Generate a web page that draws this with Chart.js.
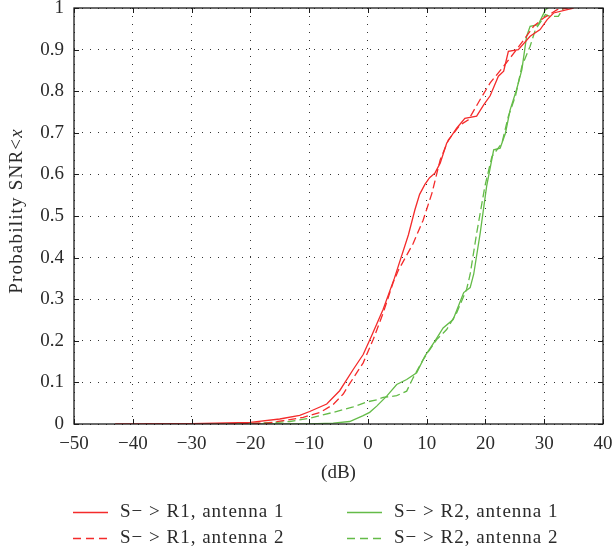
<!DOCTYPE html>
<html>
<head>
<meta charset="utf-8">
<script src="https://cdn.jsdelivr.net/npm/chart.js@4"></script>
<style>
  html, body { margin: 0; padding: 0; background: #fff; }
  #wrap { position: relative; width: 614px; height: 554px; }
</style>
</head>
<body>
<div id="wrap"><canvas id="chart"></canvas></div>
<script>
// S -> R1, antenna 1
const r1a1X = [-43, -30, -20, -15, -11.6, -9.9, -7.0, -4.8, -2.5, -0.8, 0.6, 2.6, 4.5, 6.9, 8.0, 8.8, 9.7, 10.5, 11.4, 12.3, 13.4, 15.1, 16.5, 18.5, 19.7, 20.8, 22.2, 23.1, 23.9, 25.6, 27.6, 29.3, 30.5, 31.6, 33.9, 35];
const r1a1Y = [0, 0.001, 0.004, 0.012, 0.021, 0.03, 0.048, 0.08, 0.131, 0.167, 0.211, 0.276, 0.35, 0.455, 0.515, 0.552, 0.576, 0.592, 0.603, 0.627, 0.675, 0.711, 0.735, 0.74, 0.767, 0.789, 0.836, 0.848, 0.896, 0.9, 0.932, 0.948, 0.972, 0.988, 0.996, 1.0];
// S -> R1, antenna 2
const r1a2X = [-38, -25, -17.2, -14.4, -11, -8.1, -5.9, -4.2, -3.1, -0.8, 0.9, 2.6, 4.3, 5.2, 7.7, 9.4, 10.9, 12.3, 13.7, 15.7, 17.1, 19.1, 20.8, 23.1, 25.3, 28.2, 29.9, 32.2, 34];
const r1a2Y = [0, 0.0005, 0.002, 0.008, 0.016, 0.028, 0.047, 0.072, 0.097, 0.147, 0.203, 0.267, 0.34, 0.37, 0.434, 0.49, 0.555, 0.635, 0.683, 0.719, 0.731, 0.78, 0.82, 0.86, 0.9, 0.956, 0.976, 0.996, 1];
// S -> R2, antenna 1
const r2a1X = [-30, -10, -5.9, -3.1, -0.8, 0.3, 1.5, 3.2, 4.9, 6.6, 8.3, 9.7, 11.4, 12.8, 14.5, 16.3, 17.4, 18.0, 19.1, 20.2, 21.4, 22.5, 23.4, 24.2, 25.3, 26.2, 27.0, 27.6, 29.0, 30.2, 30.7];
const r2a1Y = [0, 0.0005, 0.002, 0.006, 0.02, 0.028, 0.043, 0.067, 0.095, 0.107, 0.123, 0.163, 0.199, 0.231, 0.251, 0.316, 0.328, 0.36, 0.458, 0.571, 0.659, 0.663, 0.699, 0.755, 0.804, 0.852, 0.932, 0.956, 0.96, 0.996, 1.0];
// S -> R2, antenna 2
const r2a2X = [-30, -20, -13.3, -9.9, -5.9, -2.5, -0.2, 1.5, 2.6, 4.9, 6.6, 7.7, 9.4, 11.7, 13.4, 15.1, 16.8, 17.4, 18.5, 19.9, 21.1, 22.8, 23.9, 25.1, 26.2, 27.6, 28.5, 30.2, 31.0, 32.4, 33.3];
const r2a2Y = [0, 0.001, 0.006, 0.014, 0.028, 0.041, 0.053, 0.058, 0.064, 0.068, 0.079, 0.111, 0.155, 0.203, 0.227, 0.267, 0.324, 0.36, 0.458, 0.571, 0.643, 0.675, 0.74, 0.788, 0.86, 0.908, 0.948, 0.984, 0.98, 0.98, 1.0];

const seriesNames = ['S\u2212 > R1, antenna 1', 'S\u2212 > R1, antenna 2', 'S\u2212 > R2, antenna 1', 'S\u2212 > R2, antenna 2'];
const xTitle = '(dB)';
const yTitle = 'Probability SNR<';
const yTitleVar = 'x';

const RED = '#f42b2b';
const GREEN = '#64bb48';
const FONT = '"Liberation Serif", "DejaVu Serif", serif';
const TEXT = '#2a2a2a';
const SIZE = 19;

function points(xs, ys) {
  return xs.map((x, i) => ({ x: x, y: ys[i] }));
}

function lineSet(label, xs, ys, color, dash) {
  return {
    label: label,
    data: points(xs, ys),
    borderColor: color,
    backgroundColor: color,
    borderWidth: 1.3,
    borderDash: dash,
    pointRadius: 0,
    tension: 0,
    fill: false
  };
}

// box round the plot, with small ticks pointing inwards
const framePlugin = {
  id: 'frame',
  afterDatasetsDraw(chart) {
    const { ctx, chartArea: a, scales: { x, y } } = chart;
    ctx.save();
    ctx.strokeStyle = '#1a1a1a';
    ctx.lineWidth = 1.3;
    ctx.setLineDash([]);
    ctx.strokeRect(a.left, a.top, a.right - a.left, a.bottom - a.top);
    ctx.lineWidth = 1;
    ctx.beginPath();
    x.ticks.forEach(t => {
      const px = Math.round(x.getPixelForValue(t.value)) + 0.5;
      ctx.moveTo(px, a.bottom); ctx.lineTo(px, a.bottom - 5);
      ctx.moveTo(px, a.top); ctx.lineTo(px, a.top + 5);
    });
    y.ticks.forEach(t => {
      const py = Math.round(y.getPixelForValue(t.value)) + 0.5;
      ctx.moveTo(a.left, py); ctx.lineTo(a.left + 5, py);
      ctx.moveTo(a.right, py); ctx.lineTo(a.right - 5, py);
    });
    ctx.stroke();
    ctx.restore();
  },
  afterDraw(chart) {
    const { ctx, chartArea: a } = chart;
    ctx.save();
    // y title, with the italic variable
    ctx.fillStyle = TEXT;
    ctx.textBaseline = 'middle';
    ctx.letterSpacing = '1.2px';
    const f1 = SIZE + 'px ' + FONT;
    const f2 = 'italic ' + SIZE + 'px ' + FONT;
    ctx.font = f1;
    const w1 = ctx.measureText(yTitle).width;
    ctx.font = f2;
    const w2 = ctx.measureText(yTitleVar).width;
    ctx.translate(17, (a.top + a.bottom) / 2 - 5);
    ctx.rotate(-Math.PI / 2);
    const start = -(w1 + w2) / 2;
    ctx.textAlign = 'left';
    ctx.font = f1;
    ctx.fillText(yTitle, start, 0);
    ctx.font = f2;
    ctx.fillText(yTitleVar, start + w1, 0);
    ctx.restore();

    // legend, two columns
    ctx.save();
    ctx.letterSpacing = '1px';
    const cols = [{ x0: 73, x1: 108, tx: 120 }, { x0: 347, x1: 382, tx: 394 }];
    const rows = [512, 538];
    chart.data.datasets.forEach((ds, i) => {
      const c = cols[Math.floor(i / 2)];
      const ry = rows[i % 2] + 0.5;
      ctx.strokeStyle = ds.borderColor;
      ctx.lineWidth = 1.5;
      ctx.setLineDash(ds.borderDash.length ? [8, 5] : []);
      ctx.beginPath();
      ctx.moveTo(c.x0, ry);
      ctx.lineTo(c.x1, ry);
      ctx.stroke();
      ctx.setLineDash([]);
      ctx.fillStyle = TEXT;
      ctx.font = SIZE + 'px ' + FONT;
      ctx.textBaseline = 'middle';
      ctx.fillText(ds.label, c.tx, ry);
    });
    ctx.restore();
  }
};

const chartCanvas = document.getElementById('chart');

new Chart(chartCanvas, {
  type: 'line',
  data: {
    datasets: [
      lineSet(seriesNames[0], r1a1X, r1a1Y, RED, []),
      lineSet(seriesNames[1], r1a2X, r1a2Y, RED, [8, 4]),
      lineSet(seriesNames[2], r2a1X, r2a1Y, GREEN, []),
      lineSet(seriesNames[3], r2a2X, r2a2Y, GREEN, [8, 4])
    ]
  },
  options: {
    responsive: true,
    maintainAspectRatio: false,
    animation: false,
    layout: { padding: { top: 8, right: 11, bottom: 70, left: 0 } },
    plugins: {
      legend: { display: false },
      tooltip: { enabled: false }
    },
    scales: {
      x: {
        type: 'linear',
        min: -50,
        max: 40,
        afterFit: s => { s.height = 60; s.paddingLeft = 0; s.paddingRight = 0; },
        ticks: {
          stepSize: 10,
          padding: 9,
          color: TEXT,
          font: { family: FONT, size: SIZE },
          callback: v => String(v).replace('-', '\u2212')
        },
        grid: { color: 'rgba(0,0,0,0.8)', lineWidth: 1, drawTicks: false },
        border: { display: false, dash: [1, 7] },
        title: {
          display: true,
          text: xTitle,
          color: TEXT,
          font: { family: FONT, size: SIZE },
          padding: { top: 0, bottom: 0 }
        }
      },
      y: {
        min: 0,
        max: 1,
        afterFit: s => { s.width = 74; s.paddingTop = 0; s.paddingBottom = 0; },
        ticks: {
          stepSize: 0.1,
          padding: 10,
          color: TEXT,
          font: { family: FONT, size: SIZE, lineHeight: 0.8 },
          callback: v => String(+v.toFixed(1))
        },
        grid: { color: 'rgba(0,0,0,0.8)', lineWidth: 1, drawTicks: false },
        border: { display: false, dash: [1, 7] }
      }
    }
  },
  plugins: [framePlugin]
});
</script>
</body>
</html>
